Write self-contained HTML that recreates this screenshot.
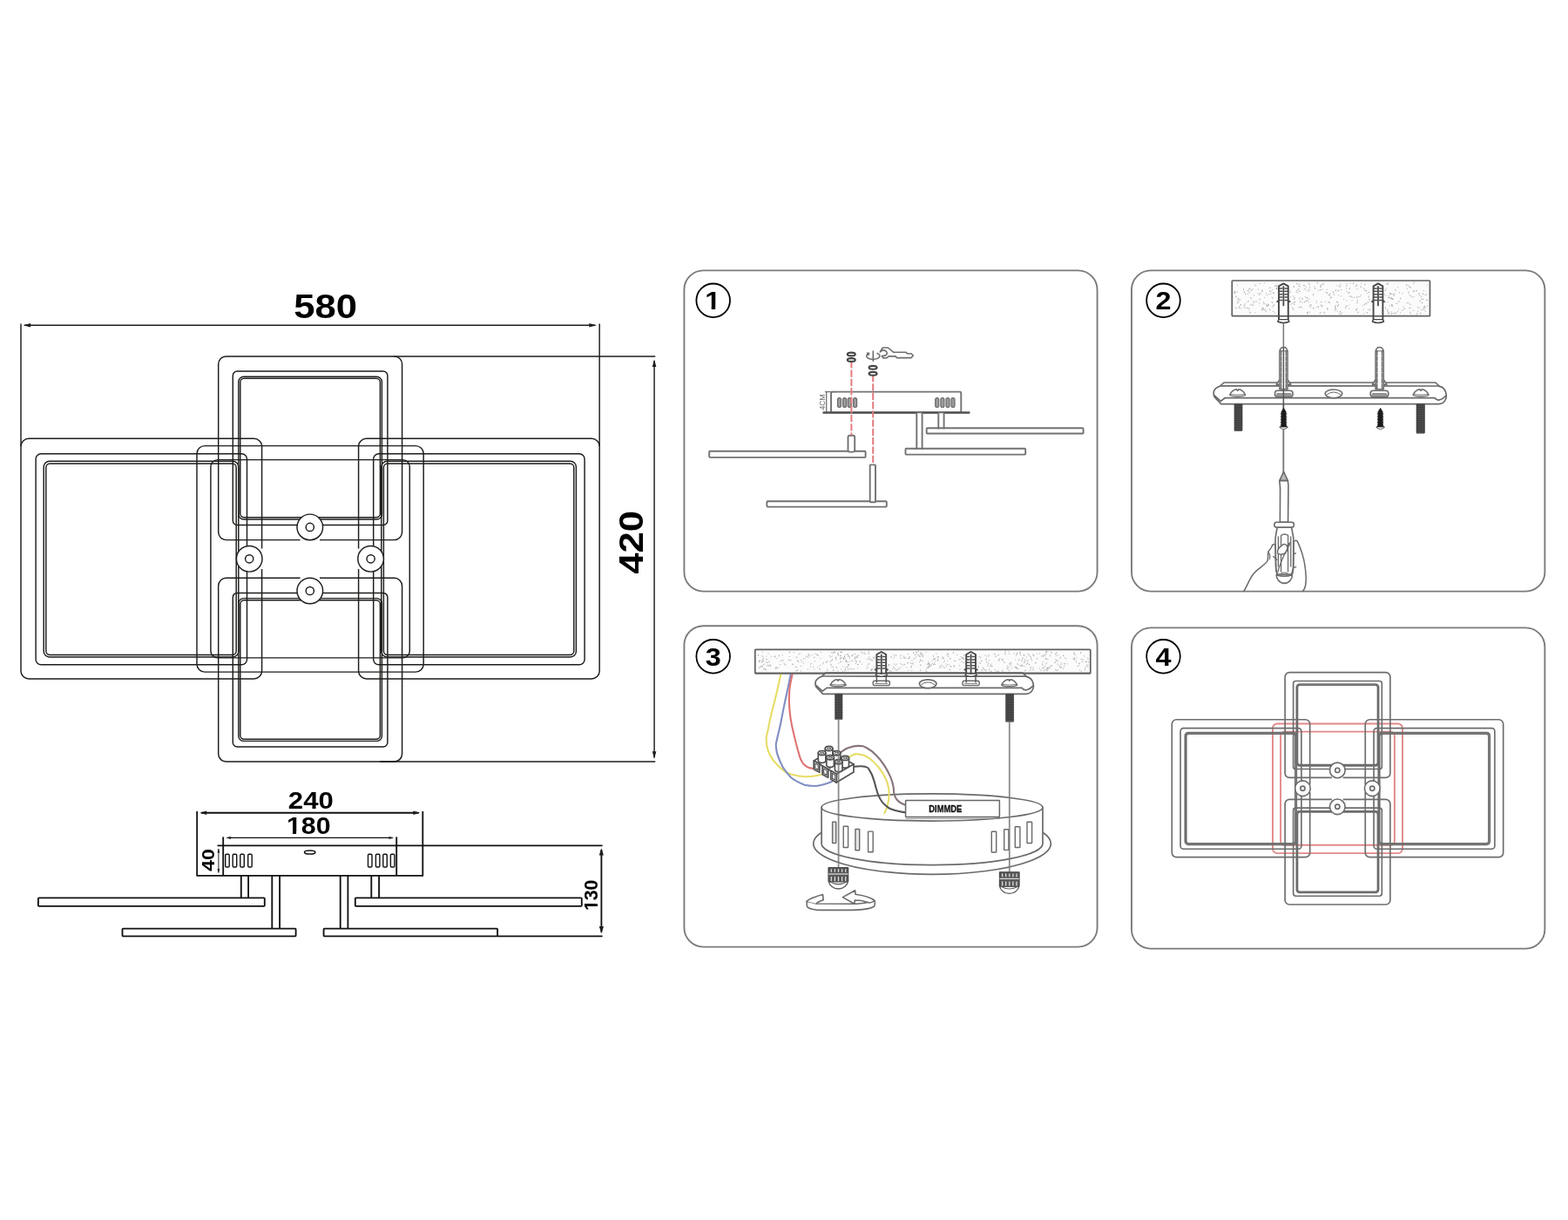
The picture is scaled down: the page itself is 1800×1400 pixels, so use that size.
<!DOCTYPE html>
<html lang="en">
<head>
<meta charset="utf-8">
<title>Assembly instructions</title>
<style>
html,body{margin:0;padding:0;background:#fff;}
body{width:1800px;height:1400px;overflow:hidden;font-family:"Liberation Sans",sans-serif;}
svg{will-change:transform;display:block;position:absolute;left:0;top:0;}
svg text{font-family:"Liberation Sans",sans-serif;}
</style>
</head>
<body>
<svg width="1800" height="1400" viewBox="0 0 1800 1400">
<rect width="1800" height="1400" fill="#fff"/>
<!-- plan view -->
<g fill="none" stroke="#1d1d1b" stroke-width="1.45">
<rect x="226" y="511.6" width="260.2" height="259.5" rx="9" stroke="#1d1d1b" stroke-width="1.45"/>
<rect x="241.9" y="527.6" width="228.4" height="227.3" rx="8" stroke="#1d1d1b" stroke-width="1.45"/>
<rect x="250.7" y="408.9" width="210.9" height="210.7" rx="9" />
<rect x="267.3" y="426" width="177.6" height="176.5" rx="5" />
<rect x="273.8" y="432.2" width="164.6" height="163.8" rx="6" />
<rect x="275.8" y="434.3" width="160.6" height="159.5" rx="4.5" />
<rect x="250.7" y="663.3" width="210.9" height="210.7" rx="9" />
<rect x="267.3" y="680.4" width="177.6" height="176.5" rx="5" />
<rect x="273.8" y="686.6" width="164.6" height="163.8" rx="6" />
<rect x="275.8" y="688.7" width="160.6" height="159.5" rx="4.5" />
<rect x="24" y="503.3" width="276.6" height="275.6" rx="9" />
<rect x="41.1" y="520.7" width="242.4" height="242" rx="6" />
<rect x="50.2" y="529.3" width="223.6" height="224.7" rx="6.5" />
<rect x="52.8" y="532" width="218.4" height="219.5" rx="4.5" />
<rect x="411.6" y="503.3" width="276.6" height="275.6" rx="9" />
<rect x="428.7" y="520.7" width="242.4" height="242" rx="6" />
<rect x="437.8" y="529.3" width="223.6" height="224.7" rx="6.5" />
<rect x="440.4" y="532" width="218.4" height="219.5" rx="4.5" />
<line x1="344.6" y1="619.6" x2="367" y2="619.6" stroke="#fff" stroke-width="2.65"/>
<line x1="344.6" y1="663.3" x2="367" y2="663.3" stroke="#fff" stroke-width="2.65"/>
<line x1="300.6" y1="629.5" x2="300.6" y2="653" stroke="#fff" stroke-width="2.65"/>
<line x1="411.6" y1="629.5" x2="411.6" y2="653" stroke="#fff" stroke-width="2.65"/>
<circle cx="355.8" cy="604.9" r="14.8" fill="#fff" stroke-width="1.45"/>
<circle cx="355.8" cy="604.9" r="4.6" stroke-width="1.45"/>
<circle cx="355.8" cy="678" r="14.8" fill="#fff" stroke-width="1.45"/>
<circle cx="355.8" cy="678" r="4.6" stroke-width="1.45"/>
<circle cx="286.2" cy="641.3" r="14.8" fill="#fff" stroke-width="1.45"/>
<circle cx="286.2" cy="641.3" r="4.6" stroke-width="1.45"/>
<circle cx="425.6" cy="641.3" r="14.8" fill="#fff" stroke-width="1.45"/>
<circle cx="425.6" cy="641.3" r="4.6" stroke-width="1.45"/>
</g>
<g stroke="#1d1d1b" stroke-width="1.45" fill="none">
<line x1="24" y1="371.5" x2="24" y2="512" />
<line x1="688.2" y1="371.5" x2="688.2" y2="512" />
<line x1="28" y1="373.2" x2="683.4" y2="373.2" />
<line x1="452" y1="408.9" x2="752.3" y2="408.9" />
<line x1="436" y1="874" x2="752.3" y2="874" />
<line x1="751.1" y1="414" x2="751.1" y2="869.4" />
</g>
<polygon points="26.6,373.2 35.1,370.9 35.1,375.5" fill="#1d1d1b"/>
<polygon points="684.8,373.2 676.3,370.9 676.3,375.5" fill="#1d1d1b"/>
<polygon points="751.1,412.6 748.8,421.1 753.4,421.1" fill="#1d1d1b"/>
<polygon points="751.1,870.8 748.8,862.3 753.4,862.3" fill="#1d1d1b"/>
<text transform="translate(373.5 365) scale(1.13 1)" font-size="38.6" font-weight="bold" fill="#000" text-anchor="middle" >580</text>
<text transform="translate(738 622.4) rotate(-90) scale(1.13 1)" font-size="38.6" font-weight="bold" fill="#000" text-anchor="middle" >420</text>
<!-- side view -->
<g stroke="#111" stroke-width="1.85" fill="none">
<line x1="226.2" y1="931" x2="226.2" y2="1004.9" />
<line x1="485.3" y1="931" x2="485.3" y2="1004.9" />
<line x1="231" y1="932.7" x2="480.6" y2="932.7" />
<line x1="256.2" y1="960.4" x2="256.2" y2="1004.9" />
<line x1="455.2" y1="960.4" x2="455.2" y2="1004.9" />
<line x1="260.6" y1="961.4" x2="450.8" y2="961.4" stroke-width="1.4"/>
<line x1="249.5" y1="970.4" x2="691.6" y2="970.4" />
<line x1="225.5" y1="1004.9" x2="486" y2="1004.9" />
<line x1="250.9" y1="974" x2="250.9" y2="1001.5" stroke-width="0.9"/>
<line x1="571" y1="1074.4" x2="691.6" y2="1074.4" />
<line x1="690.4" y1="975" x2="690.4" y2="1069.6" />
<line x1="276.8" y1="1004.9" x2="276.8" y2="1030.4" />
<line x1="285.1" y1="1004.9" x2="285.1" y2="1030.4" />
<line x1="312.3" y1="1004.9" x2="312.3" y2="1065.6" />
<line x1="321.1" y1="1004.9" x2="321.1" y2="1065.6" />
<line x1="390.7" y1="1004.9" x2="390.7" y2="1065.6" />
<line x1="399.4" y1="1004.9" x2="399.4" y2="1065.6" />
<line x1="426.3" y1="1004.9" x2="426.3" y2="1030.4" />
<line x1="435.1" y1="1004.9" x2="435.1" y2="1030.4" />
<rect x="43.9" y="1030.4" width="259.9" height="9.5" rx="0.8" fill="#fff"/>
<rect x="407.8" y="1030.4" width="260" height="9.5" rx="0.8" fill="#fff"/>
<rect x="140.5" y="1065.6" width="199.1" height="8.8" rx="0.8" fill="#fff"/>
<rect x="371.6" y="1065.6" width="199.5" height="8.8" rx="0.8" fill="#fff"/>
<rect x="258.7" y="980.3" width="4.5" height="14.7" rx="1.2" stroke-width="1.4"/>
<rect x="267.2" y="980.3" width="4.5" height="14.7" rx="1.2" stroke-width="1.4"/>
<rect x="275.8" y="980.3" width="4.5" height="14.7" rx="1.2" stroke-width="1.4"/>
<rect x="284.7" y="980.3" width="4.5" height="14.7" rx="1.2" stroke-width="1.4"/>
<rect x="422.5" y="980.3" width="4.5" height="14.7" rx="1.2" stroke-width="1.4"/>
<rect x="431.4" y="980.3" width="4.5" height="14.7" rx="1.2" stroke-width="1.4"/>
<rect x="439.8" y="980.3" width="4.5" height="14.7" rx="1.2" stroke-width="1.4"/>
<rect x="448.4" y="980.3" width="4.5" height="14.7" rx="1.2" stroke-width="1.4"/>
<ellipse cx="355.7" cy="978" rx="6.2" ry="2.1" stroke-width="1.5"/>
</g>
<polygon points="229.2,932.7 237.2,930.5 237.2,934.9" fill="#1d1d1b"/>
<polygon points="482.3,932.7 474.3,930.5 474.3,934.9" fill="#1d1d1b"/>
<polygon points="259.4,961.6 264.9,960.1 264.9,963.1" fill="#1d1d1b"/>
<polygon points="452,961.6 446.5,960.1 446.5,963.1" fill="#1d1d1b"/>
<polygon points="250.9,973.4 249.5,978.4 252.3,978.4" fill="#1d1d1b"/>
<polygon points="250.9,1002 249.5,997 252.3,997" fill="#1d1d1b"/>
<polygon points="690.4,973.2 687.8,981.4 693,981.4" fill="#1d1d1b"/>
<polygon points="690.4,1071.3 687.8,1063.1 693,1063.1" fill="#1d1d1b"/>
<text transform="translate(356.8 928) scale(1.13 1)" font-size="27.6" font-weight="bold" fill="#000" text-anchor="middle" >240</text>
<clipPath id="k1"><path clip-rule="evenodd" d="M-82.8 -33.12 h165.6 v44.16 h-165.6 Z M-23.57 -3.45 H-16.59 V1.38 H-23.57 Z M-12.81 -3.45 H-7.67 V1.38 H-12.81 Z"/></clipPath><text transform="translate(354.2 957.4) scale(1.1 1)" font-size="27.6" font-weight="bold" fill="#000" text-anchor="middle"  clip-path="url(#k1)">180</text>
<text transform="translate(245.6 987) rotate(-90) scale(1.13 1)" font-size="20.5" font-weight="bold" fill="#000" text-anchor="middle" >40</text>
<clipPath id="k2"><path clip-rule="evenodd" d="M-64.5 -25.8 h129 v34.4 h-129 Z M-18.36 -2.69 H-12.92 V1.07 H-18.36 Z M-9.98 -2.69 H-5.98 V1.07 H-9.98 Z"/></clipPath><text transform="translate(685.9 1027.3) rotate(-90) scale(0.99 1)" font-size="21.5" font-weight="bold" fill="#000" text-anchor="middle"  clip-path="url(#k2)">130</text>
<!-- panels -->
<g fill="none" stroke="#7b7b7b" stroke-width="1.9">
<rect x="785.4" y="310.4" width="474.2" height="368.2" rx="22" />
<rect x="1299" y="310.4" width="474.4" height="368.2" rx="22" />
<rect x="785.4" y="718.2" width="474.2" height="368.4" rx="22" />
<rect x="1299" y="720.4" width="474.4" height="368.2" rx="22" />
</g>
<circle cx="818.7" cy="344.8" r="19.3" fill="#fff" stroke="#000" stroke-width="1.8"/>
<clipPath id="k3"><path clip-rule="evenodd" d="M-87 -34.8 h174 v46.4 h-174 Z M-8.64 -3.62 H-1.31 V1.45 H-8.64 Z M2.67 -3.62 H8.06 V1.45 H2.67 Z"/></clipPath><text transform="translate(818.2 355) scale(1.12 1)" font-size="29" font-weight="bold" fill="#000" text-anchor="middle"  clip-path="url(#k3)">1</text>
<circle cx="1335.5" cy="344.8" r="19.3" fill="#fff" stroke="#000" stroke-width="1.8"/>
<text transform="translate(1335.5 355) scale(1.12 1)" font-size="29" font-weight="bold" fill="#000" text-anchor="middle" >2</text>
<circle cx="818.7" cy="753.3" r="19.3" fill="#fff" stroke="#000" stroke-width="1.8"/>
<text transform="translate(818.7 763.5) scale(1.12 1)" font-size="29" font-weight="bold" fill="#000" text-anchor="middle" >3</text>
<circle cx="1335.5" cy="753.3" r="19.3" fill="#fff" stroke="#000" stroke-width="1.8"/>
<text transform="translate(1335.5 763.5) scale(1.12 1)" font-size="29" font-weight="bold" fill="#000" text-anchor="middle" >4</text>
<!-- step 1 -->
<g fill="none" stroke="#727272" stroke-width="1.9" stroke-linejoin="round">
<rect x="954" y="449.6" width="149.3" height="23.8" rx="1.2" />
<line x1="948.7" y1="449.6" x2="948.7" y2="473.4" stroke-width="1.3"/>
<line x1="947" y1="449.6" x2="960" y2="449.6" stroke-width="1.3"/>
<line x1="944.5" y1="473.6" x2="1113.4" y2="473.6" stroke="#505050" stroke-width="2.5"/>
<rect x="961.5" y="456.6" width="4" height="10.7" rx="1.9" fill="#9c9c9c" stroke="#6a6a6a" stroke-width="1.2"/>
<rect x="967.6" y="456.6" width="4" height="10.7" rx="1.9" fill="#9c9c9c" stroke="#6a6a6a" stroke-width="1.2"/>
<rect x="973.3" y="456.6" width="4" height="10.7" rx="1.9" fill="#9c9c9c" stroke="#6a6a6a" stroke-width="1.2"/>
<rect x="979.6" y="456.6" width="4" height="10.7" rx="1.9" fill="#9c9c9c" stroke="#6a6a6a" stroke-width="1.2"/>
<rect x="1073.7" y="456.6" width="4" height="10.7" rx="1.9" fill="#9c9c9c" stroke="#6a6a6a" stroke-width="1.2"/>
<rect x="1079.9" y="456.6" width="4" height="10.7" rx="1.9" fill="#9c9c9c" stroke="#6a6a6a" stroke-width="1.2"/>
<rect x="1086" y="456.6" width="4" height="10.7" rx="1.9" fill="#9c9c9c" stroke="#6a6a6a" stroke-width="1.2"/>
<rect x="1092" y="456.6" width="4" height="10.7" rx="1.9" fill="#9c9c9c" stroke="#6a6a6a" stroke-width="1.2"/>
<rect x="1052.3" y="473.4" width="6.3" height="42.1" rx="0.5" fill="#fff"/>
<rect x="1077.3" y="473.4" width="6.3" height="18.8" rx="0.5" fill="#fff"/>
<rect x="1063.7" y="491.2" width="179.9" height="6.3" rx="0.8" fill="#fff"/>
<rect x="1039.5" y="514.7" width="137.7" height="6.9" rx="0.8" fill="#fff"/>
<line x1="1077.3" y1="491.2" x2="1077.3" y2="492.4" />
<line x1="1083.6" y1="491.2" x2="1083.6" y2="492.4" />
<line x1="1052.3" y1="514.7" x2="1052.3" y2="515.8" />
<line x1="1058.6" y1="514.7" x2="1058.6" y2="515.8" />
<rect x="814.2" y="517.8" width="179.4" height="7.1" rx="0.8" fill="#fff"/>
<rect x="973.5" y="499.8" width="7.7" height="18.8" rx="2" fill="#fff"/>
<rect x="880.4" y="575.2" width="137.4" height="6.4" rx="0.8" fill="#fff"/>
<rect x="998.7" y="533.4" width="6.3" height="42.8" rx="0.8" fill="#fff"/>
</g>
<g fill="none" stroke="#e57c80" stroke-width="2" stroke-dasharray="8.3 2">
<line x1="977.4" y1="414.2" x2="977.4" y2="499.6" />
<line x1="1002.2" y1="430" x2="1002.2" y2="533.2" />
</g>
<g fill="none" stroke="#454545" stroke-width="2.1">
<ellipse cx="977.3" cy="406.5" rx="4.5" ry="1.9" />
<ellipse cx="977.3" cy="413" rx="4.5" ry="1.9" />
<ellipse cx="1002.1" cy="421.8" rx="4.5" ry="1.9" />
<ellipse cx="1002.1" cy="428.8" rx="4.5" ry="1.9" />
</g>
<g fill="none" stroke="#6e6e6e" stroke-width="1.6" stroke-linecap="round" stroke-linejoin="round">
<line x1="1002.3" y1="403" x2="1002.3" y2="414.2" />
<path d="M996.8 405.9 C994.4 407 993.8 409.2 996.2 410.8 C999.4 412.9 1005.6 412.8 1008.6 410.6 C1010.8 409 1010.2 406.6 1007.2 405.4" />
<path d="M995.6 405.2 L997.6 405.2 L997 407.2 Z" fill="#707070"/>
<path d="M1010.3 403.9 L1013.3 399 L1019.4 399 L1025.6 404.2 L1040 404.3 L1041.7 405.8 L1046.1 405.8 L1048.3 408 L1046.1 410.6 L1029.4 410.6 L1028.3 408.9 L1020 408.9 C1018.8 410.4 1016.4 411.2 1013.6 410.6 L1012.2 408.6 L1016.1 408.1 C1018.8 406.6 1018.8 404.4 1017.2 403.1 C1016 402.1 1014.4 401.8 1013.3 401.9 Z" />
</g>
<text transform="translate(946.6 461.5) rotate(-90)" font-size="8.6" font-weight="normal" fill="#666" text-anchor="middle" >4CM</text>
<!-- step 2 -->
<rect x="1414.3" y="322" width="227.2" height="40.7" rx="0.8" fill="#fbfbfb" stroke="#606060" stroke-width="1.7"/>
<path d="M1453.45 349.12h.1M1523.26 332.21h.1M1596.31 342.79h.1M1595.46 341.4h.1M1499.25 345.4h.1M1500.19 344.65h.1M1638.46 350.87h.1M1553.65 325.72h.1M1553.64 324.64h.1M1628.33 337.65h.1M1629.34 336.6h.1M1622.99 340.68h.1M1493 341.8h.1M1491.52 342.83h.1M1463.14 359.09h.1M1545.85 350.55h.1M1545.77 351.47h.1M1461.48 357.46h.1M1507.81 337.54h.1M1507.45 338.92h.1M1502.7 325.46h.1M1503.4 326.84h.1M1527.01 342.05h.1M1552.1 344.37h.1M1456.95 330.57h.1M1458.31 330.14h.1M1549.51 335.45h.1M1548.12 336.32h.1M1568.64 348.63h.1M1629.73 339.03h.1M1630.43 345.58h.1M1525.88 337.91h.1M1527.08 336.96h.1M1432.21 353.25h.1M1524.16 354.38h.1M1523.39 353.79h.1M1510.02 330.59h.1M1509.51 331.71h.1M1635.32 351.13h.1M1634.53 352.41h.1M1533.59 350.51h.1M1532.67 351.46h.1M1593.5 355.97h.1M1511.48 345.25h.1M1485.23 343.58h.1M1486.09 342.2h.1M1569.07 358.56h.1M1569.37 358.96h.1M1606.04 345.36h.1M1605.74 346.65h.1M1618.03 329.27h.1M1616.73 327.94h.1M1516.09 329.53h.1M1562.41 329.02h.1M1561.85 329h.1M1465.6 330.43h.1M1465.21 331.02h.1M1539.02 326.15h.1M1610.97 352.14h.1M1418.54 341.06h.1M1419.38 340.15h.1M1571.61 335.7h.1M1571.26 335.16h.1M1616.95 335.03h.1M1617.11 336.29h.1M1438.7 345.96h.1M1439.45 347.27h.1M1485.72 349.47h.1M1485.91 348.25h.1M1597.82 359.37h.1M1597.24 360.75h.1M1440.71 327.22h.1M1441.72 327.94h.1M1516.36 346.68h.1M1516.82 346.52h.1M1531.77 338.4h.1M1530.89 337.14h.1M1513.22 333.32h.1M1598.4 350.34h.1M1597.56 350.02h.1M1524.96 347.06h.1M1435.78 341.63h.1M1436.47 342.72h.1M1590.01 346.88h.1M1565.24 355.16h.1M1568.56 333.26h.1M1502.56 346.45h.1M1630.94 359.81h.1M1630.34 359.29h.1M1503.73 329.69h.1M1434.47 335.3h.1M1440.85 358.63h.1M1462.53 336.47h.1M1568.26 333.81h.1M1488.37 333.58h.1M1450.89 348.82h.1M1451.2 348.19h.1M1501.01 358.08h.1M1500.81 358.41h.1M1502.27 334.22h.1M1503.74 332.92h.1M1596.88 357.87h.1M1421.02 342.39h.1M1421.36 342.95h.1M1537.77 327.87h.1M1537.62 328.98h.1M1499.02 329.32h.1M1599.53 343.4h.1M1598.53 343.13h.1M1539.43 332.54h.1M1604.22 357.53h.1M1420.71 345.28h.1M1421.99 345.97h.1M1430.05 353.6h.1M1554.63 341.32h.1M1491.9 334.13h.1M1491.26 334.49h.1M1614.59 327.04h.1M1614.63 327.53h.1M1458.97 334.13h.1M1457.49 334.12h.1M1568.06 347.82h.1M1566.8 349.02h.1M1536.47 339.08h.1M1434.2 354.03h.1M1432.73 353.62h.1M1535.13 346.93h.1M1535.8 346.91h.1M1452.8 354.88h.1M1618.19 348.76h.1M1619.08 349.89h.1M1535.29 356.93h.1M1503.49 358.12h.1M1593.2 324.9h.1M1593.56 325.2h.1M1452.68 357.73h.1M1453.9 356.91h.1M1638.57 344.31h.1M1497.32 327.46h.1M1496.29 327.57h.1M1597.89 337.43h.1M1596.37 337.22h.1M1545.77 325.44h.1M1463.66 328.32h.1M1533.02 356.45h.1M1531.81 355.73h.1M1511.07 347.38h.1M1500.8 341.98h.1M1500.92 341.86h.1M1424.7 353.88h.1M1595.17 350.79h.1M1637.55 337.95h.1M1635.96 338.41h.1M1546.01 345.08h.1M1460.56 332.61h.1M1597.31 341.74h.1M1596.9 342.65h.1M1527.86 340.98h.1M1528.27 341.25h.1M1570.79 355.39h.1M1500.11 333.44h.1M1592.99 357.64h.1M1594.1 358.73h.1M1433.96 335.49h.1M1449.28 354.17h.1M1449.86 353.6h.1M1465.29 331.89h.1M1465.97 331.1h.1M1569.32 336.46h.1M1498.61 331.4h.1M1497.2 331.95h.1M1508.72 328.9h.1M1562.3 325.26h.1M1548.93 340.34h.1M1550.41 339.99h.1M1558.17 347.2h.1M1557.68 347.91h.1M1558.07 340.81h.1M1557.18 341.62h.1M1421.22 347.46h.1M1420.32 347.7h.1M1546.35 327.6h.1M1545.28 328.44h.1M1489.45 336.22h.1M1488 335.34h.1M1450.5 346.78h.1M1465.91 328.49h.1M1464.68 328.22h.1M1572.26 343.73h.1M1571.44 344.01h.1M1438.19 331.77h.1M1598.58 343.08h.1M1418.82 335.3h.1M1420.14 334.9h.1M1591.18 325.73h.1M1592.44 326.48h.1M1545.6 331h.1M1434.53 358.94h.1M1453.24 336.67h.1M1562.56 338.4h.1M1428.67 334.76h.1M1428.11 335.58h.1M1485.32 328.5h.1M1515.14 332.77h.1M1516.31 332.56h.1M1570.31 346.91h.1M1570.49 346.53h.1M1460.88 342.15h.1M1460.33 341.27h.1M1619.75 339.69h.1M1618.25 338.89h.1M1609.77 336.53h.1M1516.84 350.79h.1M1516.44 350.17h.1M1548.85 354.2h.1M1523.48 336.23h.1M1604.83 329.71h.1M1631.08 355.88h.1M1632.67 355.4h.1M1501.19 359.36h.1M1500.86 359.71h.1M1593.27 346.37h.1M1592.32 355.63h.1M1599.75 359.43h.1M1600.4 359.47h.1M1632.18 347.88h.1M1632.7 347.31h.1M1445.57 338.29h.1M1443.98 337.15h.1M1517.76 351.75h.1M1518.19 350.66h.1M1530.2 335.06h.1M1530.88 334.82h.1M1503.85 350.51h.1M1503.36 351.07h.1M1602.32 359.47h.1M1602.72 358.94h.1M1572.75 354.71h.1M1572.25 355.93h.1M1495.1 347.07h.1M1417.61 336.65h.1M1417.11 335.85h.1M1422.43 353.17h.1M1422.66 353.32h.1M1605.56 354.74h.1M1454.33 351.66h.1M1455.7 351.13h.1M1504.82 352.76h.1M1484.4 339.97h.1M1638.1 327.49h.1M1620.86 340.95h.1M1591.12 331.17h.1M1634.93 355.93h.1M1435.63 350.01h.1M1436.94 349.08h.1M1538.74 328.81h.1M1485.59 329.55h.1M1556.78 326.74h.1M1631.28 340.23h.1M1497.56 346.14h.1M1497.37 346.84h.1M1458.23 335.15h.1M1619.35 330.19h.1M1618.75 329.53h.1M1495.11 343.68h.1M1495.22 342.43h.1M1434.33 331.72h.1M1433.83 331.13h.1M1602.75 347.99h.1M1603.62 348.51h.1M1486.88 346.49h.1M1535.53 351.36h.1M1622.98 333.93h.1M1633.85 343.35h.1M1437.84 350.33h.1M1438.64 350.12h.1M1535.68 333.37h.1M1536.85 333.77h.1M1556.51 328.63h.1M1558 327.8h.1M1536.3 349.37h.1M1536.48 350.68h.1M1590.43 332.96h.1M1590.17 333.48h.1M1566.78 333.82h.1M1512.62 325.05h.1M1512.23 324.2h.1M1565.83 359.93h.1M1556.7 355.1h.1M1556.98 356.21h.1M1430.06 337.43h.1M1429.55 337.23h.1M1429.5 348.74h.1M1491.16 352.93h.1M1492.03 352.02h.1M1549.02 350.25h.1M1435.56 358.65h.1M1523.68 355.18h.1M1454.26 338.67h.1M1519.84 326h.1M1518.84 326.24h.1M1559.85 340.49h.1M1561.33 340.05h.1M1566.13 331.8h.1M1565.1 330.72h.1M1491.62 328.61h.1M1492.11 328.74h.1M1593.59 341.54h.1M1594.32 341.26h.1M1533.28 333.44h.1M1533.28 332.93h.1M1439.34 338.72h.1M1598.12 351.69h.1M1594.85 339.19h.1M1428.83 352.85h.1M1511.61 352.38h.1M1589.59 338.07h.1M1591.02 339.2h.1M1458.95 337.43h.1M1515.96 358.83h.1M1515.24 359.29h.1M1618.44 358.3h.1M1619.37 359.63h.1M1490.01 332.62h.1M1490.91 331.61h.1M1538.27 357.69h.1M1538.68 357.78h.1M1631.51 342.83h.1M1632.8 343.54h.1M1449.06 353.2h.1M1450.56 354.49h.1M1526.39 339.35h.1M1525.68 338.53h.1M1454.17 350.57h.1M1454.49 350.84h.1M1622.84 334.54h.1M1623.11 333.89h.1M1636.36 357.41h.1M1602.04 333.23h.1M1601.66 332.79h.1M1499.86 341.56h.1M1422.39 343.75h.1M1423.89 343.9h.1M1547.72 335.75h.1M1545.82 334.13h.1M1427.98 351.06h.1M1428.69 350.03h.1M1549.57 330.54h.1M1548.81 331.51h.1M1503.16 343.16h.1M1634.19 333.75h.1M1590.52 352.84h.1M1590.44 353.64h.1M1557.57 354.89h.1M1558.1 354.1h.1M1451.66 341.53h.1M1559.04 358.35h.1M1559.14 358.29h.1M1448.76 333.8h.1M1449.22 334.24h.1M1557.86 331.7h.1M1606.41 335.7h.1M1445.75 336.92h.1M1447.21 336.36h.1M1502.52 331.9h.1M1457.58 354.76h.1M1457.74 355.82h.1M1558.11 345.12h.1M1558.58 344.6h.1M1451.25 324.82h.1M1544.38 353.05h.1M1544.94 352.92h.1M1533.46 354.18h.1M1533.25 354.59h.1M1449.65 355.66h.1M1448.18 355.61h.1M1626.89 359.44h.1M1626.14 360.66h.1M1566.46 326.89h.1M1567.19 326.45h.1M1455.83 349.89h.1M1456.45 349.84h.1M1597.33 342.78h.1M1597.47 350.26h.1M1597.82 349.92h.1M1433.76 356.08h.1M1539.21 360h.1M1540.75 358.83h.1M1500.88 344.89h.1M1532.51 352.71h.1M1533.08 353.54h.1M1550.17 325.24h.1M1416.83 335.31h.1M1417.67 334.38h.1M1462.79 349.31h.1M1432.7 346.43h.1M1433.09 345.25h.1M1420.53 327.31h.1M1525.79 346.37h.1M1526.39 347.49h.1M1460.78 352.37h.1M1637.27 344.7h.1M1493.43 352.38h.1M1493.83 352.73h.1M1636.63 352.6h.1M1635.59 352.2h.1M1504.86 350.09h.1M1505.05 349.96h.1M1484.62 347.43h.1M1486.16 346.4h.1M1616.52 347.25h.1M1615.17 347.66h.1M1595.29 336.99h.1M1534.94 327.72h.1M1486.1 341.65h.1M1611.45 354.98h.1M1612.56 354.01h.1M1539.38 339.94h.1M1596.96 336.91h.1M1595.69 336.49h.1M1461.12 350.61h.1M1462.45 350.89h.1M1515.94 328.76h.1M1516.14 327.76h.1M1633.79 337.38h.1M1633.11 337.03h.1M1432.72 337.52h.1M1523.34 336.08h.1M1521.94 335.54h.1M1513.49 351.87h.1M1513.22 352.3h.1M1460.08 346.53h.1M1460.57 347.58h.1M1593.47 359.79h.1M1594.93 359.64h.1M1498.25 340.74h.1M1628.86 353.24h.1M1627.64 352.41h.1M1566.16 349.57h.1M1564.58 350.96h.1M1491.87 325.99h.1M1490.59 326.87h.1M1534.43 346.36h.1M1444.53 332.18h.1M1551.73 340.15h.1M1552.11 341.4h.1M1627.58 357.25h.1M1446.06 325.51h.1M1520.86 359.26h.1M1519.69 358.43h.1M1617.61 353.63h.1M1619.09 353.27h.1M1607.46 341.97h.1M1607.64 342.96h.1M1508.07 354h.1M1507.62 353.61h.1M1629.97 345.59h.1M1456.64 337.69h.1M1502.07 324.81h.1M1445.48 348.02h.1M1481.12 334.13h.1M1481.26 335.47h.1M1448.94 333.25h.1M1422.89 351.6h.1M1571.16 341.18h.1M1571.25 340.08h.1M1488.87 325.76h.1M1488.76 325.15h.1M1465.98 326.86h.1M1464.79 328.21h.1M1424.17 350.08h.1M1424.45 349.53h.1M1634.75 353.34h.1M1634.53 354.51h.1M1451.54 355.7h.1M1542.79 343.53h.1M1436.97 333.4h.1M1436.08 332.23h.1M1626.04 333.22h.1M1625.79 334.03h.1M1445.88 343.99h.1M1446.27 343.24h.1M1537.4 359.67h.1M1538.91 360.98h.1M1516.37 327.39h.1M1517.85 326h.1M1442.48 346.02h.1M1441.2 346.08h.1M1483.02 348.03h.1M1482.15 349.21h.1M1418.15 353.13h.1M1419.43 353.43h.1M1518.73 332.21h.1M1607.4 358.8h.1M1622.28 356.44h.1M1492.07 346.05h.1M1493.07 346.2h.1M1609.4 356.34h.1M1461.93 336.46h.1M1461.4 335.51h.1M1483.42 352.84h.1M1484.75 354.03h.1M1481.36 340.83h.1M1622.52 325.23h.1M1623.55 323.89h.1M1615.38 331.15h.1M1521.44 346.13h.1M1599.73 339.31h.1M1600.66 338.62h.1M1484.49 355.59h.1M1600.69 336.78h.1M1599.43 337.71h.1M1427.58 331.04h.1M1427.44 332.43h.1M1432.46 333.5h.1M1433.1 333.1h.1M1455.45 349.19h.1" fill="none" stroke="#9a9a9a" stroke-width="0.9" stroke-linecap="round"/>
<line x1="1473.4" y1="368" x2="1473.4" y2="542" stroke="#777" stroke-width="1.5"/>
<g fill="#fff" stroke="#474747" stroke-width="1.9" stroke-linejoin="round">
<path d="M1468 367.6 L1468 328.4 L1473.4 325.4 L1478.8 328.4 L1478.8 367.6 Z" />
<path d="M1468 366.6 L1466.8 369 Q1473.4 372 1480 369 L1478.8 366.6 Z" stroke-width="1.4"/>
</g>
<g fill="none" stroke="#4a4a4a" stroke-linecap="round">
<line x1="1473.4" y1="328.9" x2="1473.4" y2="350.4" stroke-width="1.8"/>
<line x1="1468.8" y1="330.9" x2="1471.8" y2="330.9" stroke-width="1.5" stroke-dasharray="1.3 0.9"/>
<line x1="1475" y1="330.9" x2="1478" y2="330.9" stroke-width="1.5" stroke-dasharray="1.3 0.9"/>
<line x1="1468.8" y1="334.3" x2="1471.8" y2="334.3" stroke-width="1.5" stroke-dasharray="1.3 0.9"/>
<line x1="1475" y1="334.3" x2="1478" y2="334.3" stroke-width="1.5" stroke-dasharray="1.3 0.9"/>
<line x1="1468.8" y1="337.7" x2="1471.8" y2="337.7" stroke-width="1.5" stroke-dasharray="1.3 0.9"/>
<line x1="1475" y1="337.7" x2="1478" y2="337.7" stroke-width="1.5" stroke-dasharray="1.3 0.9"/>
<line x1="1468.8" y1="341.1" x2="1471.8" y2="341.1" stroke-width="1.5" stroke-dasharray="1.3 0.9"/>
<line x1="1475" y1="341.1" x2="1478" y2="341.1" stroke-width="1.5" stroke-dasharray="1.3 0.9"/>
<line x1="1468.8" y1="344.5" x2="1471.8" y2="344.5" stroke-width="1.5" stroke-dasharray="1.3 0.9"/>
<line x1="1475" y1="344.5" x2="1478" y2="344.5" stroke-width="1.5" stroke-dasharray="1.3 0.9"/>
<path d="M1468 344.4 l-2 1.6 l2 1" stroke-width="1.3"/>
<path d="M1478.8 344.4 l2 1.6 l-2 1" stroke-width="1.3"/>
<line x1="1468" y1="362.7" x2="1478.8" y2="362.7" stroke-width="1.5"/>
</g>
<g fill="#fff" stroke="#474747" stroke-width="1.9" stroke-linejoin="round">
<path d="M1576.6 367.6 L1576.6 328.4 L1582 325.4 L1587.4 328.4 L1587.4 367.6 Z" />
<path d="M1576.6 366.6 L1575.4 369 Q1582 372 1588.6 369 L1587.4 366.6 Z" stroke-width="1.4"/>
</g>
<g fill="none" stroke="#4a4a4a" stroke-linecap="round">
<line x1="1582" y1="328.9" x2="1582" y2="350.4" stroke-width="1.8"/>
<line x1="1577.4" y1="330.9" x2="1580.4" y2="330.9" stroke-width="1.5" stroke-dasharray="1.3 0.9"/>
<line x1="1583.6" y1="330.9" x2="1586.6" y2="330.9" stroke-width="1.5" stroke-dasharray="1.3 0.9"/>
<line x1="1577.4" y1="334.3" x2="1580.4" y2="334.3" stroke-width="1.5" stroke-dasharray="1.3 0.9"/>
<line x1="1583.6" y1="334.3" x2="1586.6" y2="334.3" stroke-width="1.5" stroke-dasharray="1.3 0.9"/>
<line x1="1577.4" y1="337.7" x2="1580.4" y2="337.7" stroke-width="1.5" stroke-dasharray="1.3 0.9"/>
<line x1="1583.6" y1="337.7" x2="1586.6" y2="337.7" stroke-width="1.5" stroke-dasharray="1.3 0.9"/>
<line x1="1577.4" y1="341.1" x2="1580.4" y2="341.1" stroke-width="1.5" stroke-dasharray="1.3 0.9"/>
<line x1="1583.6" y1="341.1" x2="1586.6" y2="341.1" stroke-width="1.5" stroke-dasharray="1.3 0.9"/>
<line x1="1577.4" y1="344.5" x2="1580.4" y2="344.5" stroke-width="1.5" stroke-dasharray="1.3 0.9"/>
<line x1="1583.6" y1="344.5" x2="1586.6" y2="344.5" stroke-width="1.5" stroke-dasharray="1.3 0.9"/>
<path d="M1576.6 344.4 l-2 1.6 l2 1" stroke-width="1.3"/>
<path d="M1587.4 344.4 l2 1.6 l-2 1" stroke-width="1.3"/>
<line x1="1576.6" y1="362.7" x2="1587.4" y2="362.7" stroke-width="1.5"/>
</g>
<g fill="#fff" stroke="#6a6a6a" stroke-width="1.7" stroke-linejoin="round" stroke-linecap="round">
<path d="M1405 439 L1647.9 439 L1652.5 443.4 C1660.2 444.9 1661.3 454.31 1659.5 458.27 C1657.7 462.7 1653.7 463.7 1651.2 463.7 L1401.8 463.7 L1394 455.3 C1392 450.12 1393.4 445.4 1400.8 443 Z" />
<path d="M1400.8 442.8 L1652.5 443" fill="none"/>
<path d="M1394.2 453.82 L1401.4 460.34 L1406.3 456.54 L1646.9 456.54 C1649.4 460.54 1654.9 459.74 1659.7 454.31" fill="none"/>
<path d="M1411.7 453.24 C1413.7 448.84 1416.7 447.04 1419.7 446.84 L1420.7 448.44 L1421.7 446.84 C1424.7 447.04 1427.7 448.84 1429.7 453.24 C1426.7 455.44 1414.7 455.44 1411.7 453.24 Z" stroke-width="1.5"/>
<path d="M1413.1 452.64 Q1420.7 453.64 1428.3 452.64" fill="none" stroke-width="0.9"/>
<rect x="1463.5" y="448.24" width="20.6" height="7.2" rx="3.2" stroke-width="1.6"/>
<rect x="1465.5" y="451.44" width="16.6" height="2.8" rx="1.2" fill="#9a9a9a" stroke="#777" stroke-width="0.8"/>
<ellipse cx="1531" cy="451.84" rx="9.8" ry="4.9" stroke-width="1.6"/>
<path d="M1522.6 453.24 Q1531 446.44 1539.4 453.24" fill="none" stroke-width="1"/>
<rect x="1573.2" y="448.24" width="20.6" height="7.2" rx="3.2" stroke-width="1.6"/>
<rect x="1575.2" y="451.44" width="16.6" height="2.8" rx="1.2" fill="#9a9a9a" stroke="#777" stroke-width="0.8"/>
<path d="M1622.1 453.24 C1624.1 448.84 1627.1 447.04 1630.1 446.84 L1631.1 448.44 L1632.1 446.84 C1635.1 447.04 1638.1 448.84 1640.1 453.24 C1637.1 455.44 1625.1 455.44 1622.1 453.24 Z" stroke-width="1.5"/>
<path d="M1623.5 452.64 Q1631.1 453.64 1638.7 452.64" fill="none" stroke-width="0.9"/>
</g>
<g fill="#fff" stroke="#6a6a6a" stroke-width="1.5" stroke-linejoin="round" stroke-linecap="round">
<path d="M1468.9 435.8 L1465.1 441.2 L1481.9 441.2 L1478.1 435.8 Z" />
<path d="M1468.9 446.8 L1468.9 403.6 Q1469.5 398.6 1473.5 398.6 Q1477.5 398.6 1478.1 403.6 L1478.1 446.8 Z" />
<line x1="1470.6" y1="402.6" x2="1470.6" y2="445.8" stroke-dasharray="5 1.4"/>
<line x1="1476.4" y1="402.6" x2="1476.4" y2="445.8" stroke-dasharray="5 1.4"/>
<line x1="1468.9" y1="402.8" x2="1478.1" y2="402.8" stroke-width="1"/>
</g>
<g fill="#fff" stroke="#6a6a6a" stroke-width="1.5" stroke-linejoin="round" stroke-linecap="round">
<path d="M1579.1 435.8 L1575.3 441.2 L1592.1 441.2 L1588.3 435.8 Z" />
<path d="M1579.1 446.8 L1579.1 403.6 Q1579.7 398.6 1583.7 398.6 Q1587.7 398.6 1588.3 403.6 L1588.3 446.8 Z" />
<line x1="1580.8" y1="402.6" x2="1580.8" y2="445.8" stroke-dasharray="5 1.4"/>
<line x1="1586.6" y1="402.6" x2="1586.6" y2="445.8" stroke-dasharray="5 1.4"/>
<line x1="1579.1" y1="402.8" x2="1588.3" y2="402.8" stroke-width="1"/>
</g>
<line x1="1473.4" y1="399" x2="1473.4" y2="470" stroke="#555" stroke-width="1.5"/>
<rect x="1417" y="463.6" width="9" height="30.8" rx="0.4" fill="#555" stroke="#444" stroke-width="0.6"/>
<path d="M1417 465.2H1426.4M1417 467.35H1426.4M1417 469.5H1426.4M1417 471.65H1426.4M1417 473.8H1426.4M1417 475.95H1426.4M1417 478.1H1426.4M1417 480.25H1426.4M1417 482.4H1426.4M1417 484.55H1426.4M1417 486.7H1426.4M1417 488.85H1426.4M1417 491H1426.4M1417 493.15H1426.4" fill="none" stroke="#2e2e2e" stroke-width="0.8"/>
<rect x="1626" y="463.6" width="9.4" height="33.6" rx="0.4" fill="#555" stroke="#444" stroke-width="0.6"/>
<path d="M1626 465.2H1635.8M1626 467.35H1635.8M1626 469.5H1635.8M1626 471.65H1635.8M1626 473.8H1635.8M1626 475.95H1635.8M1626 478.1H1635.8M1626 480.25H1635.8M1626 482.4H1635.8M1626 484.55H1635.8M1626 486.7H1635.8M1626 488.85H1635.8M1626 491H1635.8M1626 493.15H1635.8M1626 495.3H1635.8" fill="none" stroke="#2e2e2e" stroke-width="0.8"/>
<path d="M1473.6 468.4 L1476.1 472.4 L1476.3 489.2 L1478.4 490.2 L1468.8 490.2 L1470.9 489.2 L1471.1 472.4 Z" fill="#1c1c1c" stroke="#1c1c1c" stroke-width="0.8" stroke-linejoin="round"/>
<path d="M1469 490.4 Q1473.6 494.6 1478.2 490.4" fill="#fff" stroke="#555" stroke-width="1"/>
<path d="M1470.9 474.4l-1 .8M1476.3 474.4l1 .8M1470.9 477.7l-1 .8M1476.3 477.7l1 .8M1470.9 481l-1 .8M1476.3 481l1 .8M1470.9 484.3l-1 .8M1476.3 484.3l1 .8M1470.9 487.6l-1 .8M1476.3 487.6l1 .8" fill="none" stroke="#1c1c1c" stroke-width="1"/>
<path d="M1584.6 468.4 L1587.1 472.4 L1587.3 489.2 L1589.4 490.2 L1579.8 490.2 L1581.9 489.2 L1582.1 472.4 Z" fill="#1c1c1c" stroke="#1c1c1c" stroke-width="0.8" stroke-linejoin="round"/>
<path d="M1580 490.4 Q1584.6 494.6 1589.2 490.4" fill="#fff" stroke="#555" stroke-width="1"/>
<path d="M1581.9 474.4l-1 .8M1587.3 474.4l1 .8M1581.9 477.7l-1 .8M1587.3 477.7l1 .8M1581.9 481l-1 .8M1587.3 481l1 .8M1581.9 484.3l-1 .8M1587.3 484.3l1 .8M1581.9 487.6l-1 .8M1587.3 487.6l1 .8" fill="none" stroke="#1c1c1c" stroke-width="1"/>
<line x1="1473.4" y1="492" x2="1473.4" y2="542" stroke="#777" stroke-width="1.5"/>
<g fill="#fff" stroke="#6a6a6a" stroke-width="1.6" stroke-linejoin="round" stroke-linecap="round">
<path d="M1473.6 541.4 L1478.4 551.6 L1468.8 551.6 Z" fill="#bbb"/>
<path d="M1468.8 551.6 L1478.4 551.6 L1479 557 L1478.6 599.3 L1469.4 599.3 L1469.6 560 Z" />
<rect x="1462.9" y="599.3" width="22.5" height="5.9" rx="2.6" />
<path d="M1466.2 605.2 C1465.4 611 1463.8 615 1464 621 L1464.6 650 C1464.6 654 1465.6 657 1466.4 659 L1482.6 659 C1483.6 656 1484.6 653 1484.6 650 L1485 621 C1485.2 615 1483.4 611 1482.6 605.2 Z" />
<path d="M1470.6 614.5 L1470.6 656 M1478.6 614.5 L1478.6 656 M1467.4 616 L1467.4 650 M1481.8 616 L1481.8 650" fill="none" stroke-width="1.3"/>
<path d="M1470.6 614.5 Q1474.6 611.5 1478.6 614.5" fill="none" stroke-width="1.3"/>
<path d="M1427.8 678.4 C1431.5 673 1434 665 1438.5 659 C1443 653 1450.5 649.6 1454.6 644.4 C1456.4 642 1455 637.4 1456 633.6 C1456.8 630.4 1459.6 629.6 1460 627 C1460.6 624.6 1462.6 624 1464.2 625.2 L1464.6 650 C1464.8 656 1466 660 1468 663 L1481 663 C1484 660 1484.8 654 1484.8 650 L1485 621.6 C1487 620 1488.6 619.6 1489.4 621.4 C1493 629 1496.4 639 1497.8 648 C1499 656 1499.8 666 1498.6 672 C1498 675 1496.8 677 1495.6 678.4" fill="none" stroke-width="1.5"/>
<path d="M1466.6 634.6 C1465.8 631 1468.4 628 1471.6 625.8 C1474 624 1476.2 624.2 1477.4 626.4 C1478.6 629 1477.6 632.6 1475.4 634.6 C1473.4 636.6 1468.2 637.2 1466.6 634.6 Z" stroke-width="1.45"/>
<path d="M1477.4 626.4 C1479 624 1480.4 623 1481.6 622.4 M1480.4 624.6 C1476.4 633 1470 643 1467 656" fill="none" stroke-width="1.3"/>
<path d="M1456 633.6 C1458 636 1458.2 639 1457.4 641.6 M1461.6 638.6 L1466 642.4 M1484.6 635.6 L1487.4 635 M1485 651.4 L1487.8 650.6" fill="none" stroke-width="1.3"/>
<path d="M1465.2 659.4 C1465 663.6 1468.6 669.2 1474.4 669.4 C1480.2 669.2 1483.8 663.6 1483.4 659.4 C1478 661.6 1470.4 661.6 1465.2 659.4 Z" />
<ellipse cx="1474.3" cy="658.4" rx="4.2" ry="1.4" fill="none" stroke-width="1"/>
</g>
<!-- step 3 -->
<g fill="none" stroke="#6a6a6a" stroke-width="1.7" stroke-linecap="round" stroke-linejoin="round">
<path d="M943.1 955.2 A136.3 35.3 0 1 0 1197 955.2" />
<path d="M943.1 926.5 L943.1 968 A126.95 24.6 0 0 0 1197 968 L1197 926.5" fill="#fff"/>
<ellipse cx="1070.05" cy="926.5" rx="126.95" ry="15.6" fill="#fff"/>
<rect x="955.6" y="943.3" width="4.1" height="24.2" rx="0.5" fill="#e4e4e4" stroke-width="1.4"/>
<rect x="968.2" y="948.3" width="5.4" height="24.2" rx="0.5" fill="#fff" stroke-width="1.4"/>
<rect x="981.9" y="951.5" width="4.8" height="24.3" rx="0.5" fill="#e4e4e4" stroke-width="1.4"/>
<rect x="996.6" y="954.1" width="5.6" height="23.6" rx="0.5" fill="#fff" stroke-width="1.4"/>
<rect x="1138.3" y="954.2" width="5.4" height="23.8" rx="0.5" fill="#fff" stroke-width="1.4"/>
<rect x="1152.7" y="951.7" width="5.2" height="23.7" rx="0.5" fill="#fff" stroke-width="1.4"/>
<rect x="1165.3" y="948.7" width="5.6" height="23.8" rx="0.5" fill="#fff" stroke-width="1.4"/>
<rect x="1179" y="943.3" width="5.6" height="24.2" rx="0.5" fill="#fff" stroke-width="1.4"/>
</g>
<path d="M965.4 863.1 C967.58 861.85 969.02 859.9 974.1 858.1 C979.18 856.3 980.27 855.72 985.7 855.9 C991.13 856.08 990.75 856.1 995.8 858.8 C1000.85 861.5 1001.2 862 1005.9 866.7 C1010.6 871.4 1010.62 871.62 1014.6 877.6 C1018.58 883.58 1019.1 884.47 1021.8 890.6 C1024.5 896.73 1024.15 896.7 1025.4 902.1 C1026.65 907.5 1025.35 907.87 1026.8 912.2 C1028.25 916.53 1028.02 916.5 1031.2 919.4 C1034.38 922.3 1037.42 922.7 1039.5 923.8" fill="none" stroke-width="2.1" stroke-linecap="round" stroke="#86747a"/>
<path d="M974.8 868.9 C976.08 868.17 976.82 866.8 979.9 866 C982.98 865.2 982.77 864.8 987.1 865.7 C991.43 866.6 992.15 866.27 997.2 869.6 C1002.25 872.93 1002.77 873.75 1007.3 879 C1011.83 884.25 1012.22 884.82 1015.3 890.6 C1018.38 896.38 1018.27 896.7 1019.6 902.1 C1020.93 907.5 1020.78 906.77 1020.6 912.2 C1020.42 917.63 1020.23 918.55 1018.9 923.8 C1017.57 929.05 1016.2 930.85 1015.3 933.2" fill="none" stroke-width="2.1" stroke-linecap="round" stroke="#e6dd66"/>
<path d="M979.9 879.7 C983.15 879.7 988.2 878.42 992.9 879.7 C997.6 880.98 996.17 881 998.7 884.8 C1001.23 888.6 1001.2 889.85 1003 894.9 C1004.8 899.95 1004.27 899.95 1005.9 905 C1007.53 910.05 1006.97 910.4 1009.5 915.1 C1012.03 919.8 1011.85 920.17 1016 923.8 C1020.15 927.43 1020.22 927.45 1026.1 929.6 C1031.98 931.75 1036.15 931.7 1039.5 932.4" fill="none" stroke-width="2.1" stroke-linecap="round" stroke="#555"/>
<rect x="1039.6" y="918.5" width="107.8" height="19" rx="0.6" fill="#fff" stroke="#666" stroke-width="1.5"/>
<line x1="1039.6" y1="939.3" x2="1147.4" y2="939.3" stroke="#8a8a8a" stroke-width="0.9"/>
<text transform="translate(1085.3 931.8) scale(0.81 1)" font-size="11.6" font-weight="bold" fill="#111" text-anchor="middle" stroke="#111" stroke-width="0.35">DIMMDE</text>
<rect x="866.8" y="745.4" width="385" height="27.3" rx="0.8" fill="#fbfbfb" stroke="#606060" stroke-width="1.7"/>
<path d="M1086.02 762h.1M974.67 762.44h.1M1214.65 752.06h.1M1103.8 759.13h.1M1070.04 757.83h.1M986.82 758.96h.1M987.16 759.62h.1M1031.23 766.78h.1M1080.43 763.09h.1M1079.01 764.44h.1M977.39 752.66h.1M1154.23 750.65h.1M1153.41 750.01h.1M871.72 759.6h.1M871.38 758.72h.1M911.13 748.63h.1M1153.3 760.38h.1M1152.18 759.32h.1M989.59 749.18h.1M988.64 748.32h.1M1049.22 755.88h.1M1050.14 755.35h.1M895.99 758.63h.1M896.88 757.54h.1M1200.94 748.23h.1M1200.76 747.71h.1M1207.08 763.56h.1M1207.07 763.87h.1M882.03 749.85h.1M1146.51 758.22h.1M1146.53 757.55h.1M1202.37 769.35h.1M1200.83 769.06h.1M1174.46 755.15h.1M1173.45 755.74h.1M1105.67 754.28h.1M1158.35 769.44h.1M1034.21 765.95h.1M1199.5 764.64h.1M1063.65 766.86h.1M1143.37 752.98h.1M1142.63 753.22h.1M1087.04 752.33h.1M1088.48 751.13h.1M1221.33 765.12h.1M1247.62 763.06h.1M1249.02 762.82h.1M1217.61 766.05h.1M1216.14 764.71h.1M1165.94 765.55h.1M1164.7 765.18h.1M1173.05 764.42h.1M1237.16 764.73h.1M875.52 748.04h.1M1104.41 755.19h.1M1103.87 754.74h.1M1057.67 757.93h.1M1056.34 757.1h.1M918.03 750.14h.1M916.85 750.98h.1M1076.31 758.16h.1M958.56 748.42h.1M958.04 748.03h.1M965.28 754.73h.1M872.58 757.91h.1M871.88 758.54h.1M954.59 748.84h.1M956.12 748.41h.1M913.79 769.55h.1M1232.75 755.29h.1M885.02 753.2h.1M1065.37 765.5h.1M1066.58 764.32h.1M1106.23 752.11h.1M1107.46 751.91h.1M1178.07 754.23h.1M1214.14 761.88h.1M1214.68 763.14h.1M1173.75 757.8h.1M1172.47 758.55h.1M929.44 752.77h.1M928.36 752.45h.1M1050.42 751.81h.1M1051.25 750.68h.1M920.75 759.55h.1M1218.02 760.59h.1M1219.22 761.97h.1M1211.03 759.74h.1M1211.31 760.55h.1M1247.13 758.91h.1M1246.53 759.02h.1M1075.89 754.21h.1M1077.22 753.47h.1M965.76 754.69h.1M984.54 766.34h.1M1202.07 765.84h.1M1201.91 766.74h.1M962.72 761.32h.1M1224.05 755.72h.1M1222.55 755.21h.1M1077.21 754.15h.1M1183.51 755.22h.1M1002.61 754.35h.1M1003.53 755.47h.1M881.14 763.88h.1M880.87 763.37h.1M1212.37 757.56h.1M1211.9 756.87h.1M961.75 749.29h.1M961.91 749.96h.1M1124.1 753.68h.1M899.24 757.53h.1M898.22 758.82h.1M1141.06 750.83h.1M1142.05 750.47h.1M983.87 754.52h.1M984.15 753.99h.1M1094.24 749.31h.1M1094.5 748.81h.1M1198.97 768.6h.1M1025.73 751.6h.1M979.13 751.58h.1M978.17 751.97h.1M1157.99 748.16h.1M942.07 755.41h.1M1236.12 754.9h.1M1001.09 768.88h.1M1001.61 767.71h.1M1082.06 764.47h.1M1160.14 760.16h.1M1160.55 760.57h.1M1101.55 763.82h.1M1225.38 761.74h.1M1150.63 756.38h.1M1203.35 767.9h.1M1132.42 759.01h.1M1132.86 760.11h.1M1157 768.18h.1M1155.85 767.09h.1M1079.01 766.45h.1M1079.94 765.18h.1M948.79 760.09h.1M1056.93 763.24h.1M1056.54 763.29h.1M870.06 752.37h.1M870.56 751.52h.1M961.86 769.99h.1M1025.43 765.36h.1M1179.72 760.36h.1M906.13 757.46h.1M905.35 757.08h.1M1205.99 752.86h.1M1205.46 751.94h.1M878.19 768.26h.1M876.68 768.34h.1M935.48 758.68h.1M1241.02 756.77h.1M1056.59 749.69h.1M1057.58 750.47h.1M1144.07 769.93h.1M1144.71 770.82h.1M1220.56 767.31h.1M998.6 756.33h.1M914.86 754.77h.1M913.92 753.89h.1M891.03 765.7h.1M954.35 763.17h.1M953.45 762.23h.1M1181.57 762.61h.1M1201.68 760.91h.1M1200.6 761.91h.1M1181.06 762.3h.1M1176.74 756.88h.1M1176.5 758.05h.1M1207.1 748.04h.1M1206.93 749.19h.1M1203.2 766.55h.1M1202.26 767.32h.1M1036.67 755.02h.1M876.07 758.75h.1M1135.58 767.71h.1M1135.77 769.05h.1M919.63 757.49h.1M930.31 765.15h.1M967.26 769.97h.1M919.46 769.98h.1M1051.48 748.55h.1M1091.55 764.5h.1M1091.48 765.36h.1M1146.1 751.76h.1M1145.95 751.65h.1M1245.32 768.72h.1M1245.7 767.7h.1M1197.85 759.67h.1M1214.73 768.74h.1M1213.34 769.5h.1M1046.12 765.24h.1M1045.85 765.89h.1M1020.48 762.95h.1M1020.36 763.18h.1M1129.61 768.02h.1M1131.08 768.58h.1M878.74 767.91h.1M877.18 766.75h.1M998.21 753.77h.1M974.98 755.59h.1M1195.59 768.78h.1M1194.21 769.33h.1M997.4 750.24h.1M996.84 749.71h.1M933.55 765.6h.1M1198.61 770.02h.1M919.4 764.37h.1M1158.18 761.9h.1M1156.55 764.3h.1M1157.96 765.57h.1M1003.29 765.42h.1M1033.34 755.39h.1M1165.83 757.1h.1M1231.95 756.24h.1M922.58 761.13h.1M1023.2 754.22h.1M1022.77 753.91h.1M1026.6 753.34h.1M953.71 753.76h.1M955.02 753.13h.1M938.33 765.18h.1M915.07 769.6h.1M915.49 768.86h.1M1183.66 756.15h.1M1171.59 763.59h.1M1170.96 763.82h.1M1068.99 763.83h.1M1067.59 762.43h.1M1175.2 751.79h.1M1042.86 769.18h.1M1190.74 750.14h.1M1195.42 753.11h.1M875.79 757.7h.1M875.63 758.61h.1M978.66 768.22h.1M980.16 767.62h.1M1127.04 768.66h.1M1193.5 749.85h.1M884.83 762.98h.1M1160.61 764.12h.1M1244.43 752.9h.1M1175.66 752.17h.1M1175.46 751.19h.1M1193.29 766.98h.1M882.45 764.18h.1M1142.19 768.68h.1M1136.51 764.45h.1M1137.38 763.93h.1M970.3 755.25h.1M968.82 754.27h.1M974.42 752.74h.1M975.18 753.65h.1M995.65 763.8h.1M880.68 760.68h.1M934.75 768h.1M1073 759.86h.1M890.94 767.44h.1M890.31 766.77h.1M1074.99 750.15h.1M1024.61 767.9h.1M1170.85 750.32h.1M1171.26 751.56h.1M1106.94 755.94h.1M1045.51 761.05h.1M1046.96 761.37h.1M910.42 762.24h.1M909.36 762.23h.1M970.32 769.08h.1M970.47 767.7h.1M984.69 762.43h.1M985.21 762.64h.1M1102.95 753.62h.1M1186.65 751.66h.1M1187.13 752.77h.1M934.32 754.5h.1M934.9 754.4h.1M1137.94 769.99h.1M1137.63 770.81h.1M1177.42 769.2h.1M1176.61 769.67h.1M1183.9 765.7h.1M1182.71 766.26h.1M966.56 748.47h.1M966.06 748.11h.1M1076.49 757.84h.1M1076.92 756.96h.1M1173.3 762.85h.1M1083.59 759.94h.1M1198.17 752.18h.1M1199.22 752.05h.1M927.21 767.94h.1M876.5 755.6h.1M875.79 756.22h.1M956.15 749.76h.1M1087.84 758.53h.1M1128.55 766.89h.1M1127.92 766.42h.1M1048 760.77h.1M1048.21 762h.1M1153.97 748.01h.1M1154.39 746.76h.1M1246.02 765.45h.1M1065.86 762.1h.1M1066.11 762.12h.1M1000.94 758.39h.1M1001.29 757.65h.1M970.22 751.31h.1M1041.97 760.84h.1M1042.25 760.45h.1M967.94 765.01h.1M927.69 751.06h.1M928.63 750.53h.1M955.1 757.5h.1M955.51 756.99h.1M1021.26 769.84h.1M952.69 759.23h.1M954.23 758.56h.1M1221 752.73h.1M1220.5 752.24h.1M1000.02 756.67h.1M998.77 757.03h.1M1132.37 752.89h.1M1130.88 752h.1M1065.85 761.82h.1M1180.98 751.44h.1M1180.01 750.24h.1M879.95 759.98h.1M1240.82 748.44h.1M1240.35 749.45h.1M908.03 757.72h.1M1166.49 751.92h.1M1167.07 750.87h.1M1197 763.01h.1M1196.47 761.86h.1M1212.42 752.17h.1M1134.55 761.36h.1M973.65 762.78h.1M974.31 763.49h.1M1046.28 764.17h.1M875.02 752.63h.1M875.64 753.56h.1M956.83 768.51h.1M956.6 769.48h.1M976.79 767.03h.1M976.13 767.98h.1M1055.45 759.67h.1M1056.84 758.34h.1M1222.06 763.4h.1M1056.73 769.15h.1M1056.66 769.44h.1M1238.57 763.61h.1M1135.41 757.61h.1M884.55 764.58h.1M883.23 763.32h.1M1040.17 765.66h.1M1105.6 756.13h.1M1105.45 755.66h.1M1064.62 762.31h.1M1066 761.27h.1M1201.29 748.24h.1M1202.77 747.77h.1M900.1 761.44h.1M1052.89 748.43h.1M1054.1 747.58h.1M1137.61 762.17h.1M1174.15 763.98h.1M1172.78 764.23h.1M1087.61 762.72h.1M1089.16 763h.1M1028.76 751.69h.1M1028.03 752.2h.1M1026.06 766.01h.1M1027.15 767.33h.1M1123.57 765.64h.1M1123.44 765.32h.1M1021.73 769.58h.1M1023.22 770.23h.1M971.2 757.56h.1M971.07 758.81h.1M1090.98 755.54h.1M1090.62 756.41h.1M1171.28 748.65h.1M1160.6 761.97h.1M985.88 751.61h.1M984.36 752.6h.1M1038.26 762.67h.1M1038.34 762.32h.1M1167.42 767.33h.1M1084.39 758.3h.1M1233.64 755.29h.1M1233.65 756.3h.1M924.08 755.59h.1M1156.71 766.3h.1M1200.71 750.92h.1M1200.43 750.33h.1M1030.84 768.67h.1M941.29 763.37h.1M964.51 755.56h.1M964.35 756.23h.1M1002.45 754.83h.1M1003.97 754.13h.1M1037.34 753.05h.1M1038.24 754.09h.1M1089.75 768.63h.1M1090.35 768.26h.1M968.25 756.74h.1M968.66 755.8h.1M1138.95 764.27h.1M1138.57 764.7h.1M874.9 764.54h.1M873.36 765.24h.1M1034.09 752.23h.1M1033.71 752.68h.1M881.97 759.46h.1M883.17 759.25h.1M931.67 761.1h.1M930.38 762.21h.1M1083.24 755.75h.1M1082.1 755.51h.1M1029.06 768.95h.1M1028.7 768.95h.1M982.89 759.09h.1M981.94 758.74h.1M1163.95 749.82h.1M1221.6 761.01h.1M1222.78 761.64h.1M997.42 747.92h.1M1039.69 755.03h.1M1038.79 755.68h.1M1098.61 751.38h.1M1167.71 749.95h.1M996.3 756.37h.1M996.42 755.22h.1M1234.11 751.19h.1M879.23 757.03h.1M880.8 756.6h.1M1249.2 756.23h.1M1248.81 755.02h.1M1054.61 751.53h.1M1053.47 751.04h.1M1246.44 759.86h.1M1184.44 757.48h.1M874.74 759.64h.1M1217.9 765.42h.1M1216.67 765.09h.1M1051.9 753.74h.1M1082.94 765.95h.1M1084.34 766.33h.1M1059.47 758.76h.1M1105.78 760.27h.1M1107 760.75h.1M1243.49 756.97h.1M1242.06 756.5h.1M1059.38 753.44h.1M941.6 768.38h.1M940.59 767.32h.1M1168.96 767.55h.1M960.79 766.58h.1M965.57 768.01h.1M971.97 759.82h.1M970.72 758.64h.1M1179.96 757.97h.1M1217.49 754.29h.1M1216.73 755.51h.1M992.1 748.88h.1M991.72 749.96h.1M954.97 765.23h.1M956.5 765.53h.1M959.77 755.19h.1M959.45 755.05h.1M1232.56 748.74h.1M1233.35 749.86h.1M1201.65 756.37h.1M1202.9 756.58h.1M1232.92 750.62h.1M1146.2 770.07h.1M1146.52 771.06h.1M1042.11 750.67h.1M932.19 751.59h.1M1046.76 769.32h.1M924.81 753.11h.1M936.12 750.18h.1M937.31 751.28h.1M1200.09 756.46h.1M1200.2 755.15h.1M949.34 768.28h.1M1101.9 768.13h.1M1071.29 762.74h.1M981.37 755.29h.1M981.27 756.66h.1M942.58 748.41h.1M1239.55 768.94h.1M1241.15 770.09h.1M969.55 753.33h.1M969.5 753.49h.1M949.4 759.01h.1M948.29 759.44h.1M916.28 758.15h.1M915.13 758.35h.1M1176.37 759.59h.1M1175.35 760.61h.1M1082.93 754.07h.1M1081.79 754.29h.1M871.95 765.36h.1M871.48 766.67h.1M891.98 755.53h.1M1179.11 758.08h.1M959.92 765.46h.1M875.06 765.06h.1M873.84 764.06h.1M971.09 766.01h.1M973.6 752.57h.1M973.46 752.99h.1M1176.64 764.75h.1M1086.1 764.5h.1M906.35 748.66h.1M906.03 748.51h.1M895.67 762.57h.1M1000.61 767.81h.1M1000.08 769.16h.1M965.07 752.35h.1M964.66 752.6h.1M1247.8 764.57h.1M1249.11 765.17h.1M1161.51 767.03h.1M959.81 756.86h.1M1067.06 765.01h.1M1067.7 764.65h.1M997.72 762.08h.1M997.29 761.9h.1M922.24 756.22h.1M978.29 758.16h.1M977.75 758.16h.1M1211.58 768.59h.1M1212.55 768.95h.1M1059.37 752.47h.1M1059.18 751.46h.1M1201.22 767.76h.1M898.03 751.49h.1M1088.47 753.71h.1M1094.91 764.07h.1M959.71 754.22h.1M1235.4 759.8h.1M1057.09 748.4h.1M1071.6 752.32h.1M1071.41 753.2h.1M1185.86 765.98h.1M945.39 760.62h.1M944.48 761.88h.1M894.25 752.19h.1M894.3 752.81h.1M952.2 752.61h.1M1213.19 758.68h.1M1096.57 758.63h.1M1095.72 758.27h.1M1217.68 762.73h.1M1205.38 766.79h.1M1204.37 765.45h.1M1165.95 766.48h.1M1167.01 765.97h.1M1065.71 766.81h.1M1064.84 766.13h.1M1186.55 767.94h.1M1185.31 768.85h.1M982.36 761.48h.1M1159.7 762.01h.1M1065.54 759.85h.1M1066.22 761.03h.1M879.83 753.08h.1M1189.29 760.63h.1M1188.45 761.02h.1M889.01 753.41h.1M1070.72 761.32h.1M1069.35 762.24h.1M916.68 759.35h.1M1026.29 755.38h.1M1087.57 750.12h.1M1088.21 750.39h.1M972.88 759.67h.1M971.54 758.69h.1M1168.38 762.56h.1M1168.07 761.78h.1M890.02 754.04h.1M889.7 752.91h.1M1169.51 757.87h.1M1170 756.77h.1M1126.99 757.84h.1M1126.54 758.84h.1M981.41 750.54h.1M1134.8 753.02h.1M1135.51 751.94h.1M1190.69 755.35h.1M1190.01 756.15h.1M1101.16 757.08h.1M1102.04 756.56h.1M957.68 748.64h.1M1198.78 765.8h.1M1032.55 768.02h.1M968.58 755.8h.1M968.01 755.17h.1M1000.16 768.76h.1M1000.03 769.5h.1M1170.31 748.68h.1M989.41 762.18h.1M1183.66 768.33h.1M927.92 754.49h.1M926.62 753.79h.1M949.64 769.67h.1M1201.9 769.26h.1M1147.86 755.81h.1M1147.59 756.79h.1M983.4 759.27h.1M901.66 762.47h.1M900.88 762.96h.1M1127.17 769.53h.1M1204.75 765.6h.1M1206.27 764.3h.1M1151.18 757.02h.1M1150.62 757.67h.1M1214.18 758.42h.1M994.79 767.08h.1M1132.53 756.05h.1M1131.37 756.92h.1M1181.75 752.84h.1M1183.06 753.76h.1M1062.94 748.3h.1M964.42 759.27h.1M965.55 759.58h.1M876.21 762.89h.1M877.07 762.21h.1M1073.59 762.36h.1M1072.38 762.02h.1M893.52 766.25h.1M891.95 766.17h.1M1035.2 762.73h.1M1033.79 761.34h.1M1239.45 760.99h.1M1238.56 761.58h.1M1178.85 761.39h.1M1178.23 762.38h.1M1020.14 762.63h.1M1020.41 763.68h.1M1197.32 766.64h.1M1196.79 766.61h.1M1026.63 761.86h.1M1027.99 763.19h.1M1036.79 763.08h.1M1234.97 758.01h.1M1233.4 756.74h.1M1057.19 750.82h.1M1058.33 750.29h.1M1062.63 769.02h.1M1063.61 770.29h.1M983.69 753.36h.1M1055.82 753.28h.1M1056.32 752.88h.1M1125.9 754.26h.1M1125.31 755.14h.1M938.58 751.47h.1M939.15 752.52h.1M969.69 769.86h.1M1047.05 758h.1M1095.21 764.1h.1M1095.4 764.95h.1M982.19 754.45h.1M981.14 753.99h.1M965.05 748.3h.1M964.74 748.63h.1M973.69 768.8h.1M973.63 767.64h.1M1043.45 755.81h.1M1042.54 755.46h.1M973.42 750.44h.1M972.51 750.94h.1M1055.25 752.95h.1M1242.48 759.24h.1M1242.83 759.43h.1M1249.14 759.67h.1M1249.56 759.94h.1M1029.13 762.26h.1M1044.3 753.88h.1M1043.97 754.24h.1M879.53 768.68h.1M975.14 759.09h.1M1072.36 755.94h.1M1150.75 770.05h.1M1151.02 768.93h.1M995.94 766.04h.1M1197.01 752.18h.1M1197.55 753.33h.1M962.15 751.51h.1M961.63 750.68h.1M906.12 753.48h.1M1166.29 765.93h.1M1073.56 757.22h.1M1072.57 755.88h.1M1071.68 756.64h.1M1073.07 755.32h.1M913.8 765.22h.1M914.16 765.58h.1M1167.32 767.14h.1M1124.7 760.83h.1M1125.29 760.97h.1M1158.78 750.56h.1M1211.46 750.62h.1M1212.63 748.85h.1M1212.69 749.81h.1M1185.39 751.19h.1M1167.46 749.33h.1M993.19 750.39h.1M1132.04 769.68h.1M1131.07 769.02h.1M1218.6 766.01h.1M1182.01 769.53h.1M1066.13 764.59h.1M1067.12 763.29h.1M962.65 751.98h.1M874.5 759.91h.1M1134.04 764.25h.1M1133.94 762.97h.1M1048.72 748.82h.1M1048.74 749.47h.1M972.64 764.78h.1M973.18 765.39h.1" fill="none" stroke="#9a9a9a" stroke-width="0.9" stroke-linecap="round"/>
<path d="M896.3 773.6 C895.02 779.38 893.93 785.15 891.2 796.7 C888.47 808.25 887.93 808.97 885.4 819.8 C882.87 830.63 882.53 832.77 881.1 840 C879.67 847.23 879.52 843.27 879.7 848.7 C879.88 854.13 879.65 855.57 881.8 861.7 C883.95 867.83 884.15 867.8 888.3 873.2 C892.45 878.6 892.97 879.32 898.4 883.3 C903.83 887.28 903.5 887.1 910 889.1 C916.5 891.1 917.17 891.12 924.4 891.3 C931.63 891.48 933.1 890.9 938.9 889.8 C944.7 888.7 945.42 887.63 947.6 886.9" fill="none" stroke-width="2.1" stroke-linecap="round" stroke="#e6dd66"/>
<path d="M907.8 773.6 C906.9 777.93 906.18 781.52 904.2 790.9 C902.22 800.28 902.05 800.62 899.9 811.1 C897.75 821.58 897.6 823.4 895.6 832.8 C893.6 842.2 893.08 842.57 891.9 848.7 C890.72 854.83 890.35 851.9 890.9 857.3 C891.45 862.7 891.12 863.07 894.1 870.3 C897.08 877.53 897.37 879.5 902.8 886.2 C908.23 892.9 908.57 893.2 915.8 897.1 C923.03 901 924.12 901.1 931.7 901.8 C939.28 902.5 939.97 901.28 946.1 899.9 C952.23 898.52 953.67 897.2 956.2 896.3" fill="none" stroke-width="2.1" stroke-linecap="round" stroke="#7f8ec2" stroke-width="2.4"/>
<path d="M909.6 773.6 C908.8 777.93 907.3 782.25 906.4 790.9 C905.5 799.55 905.65 799.52 906 808.2 C906.35 816.88 906.45 816.92 907.8 825.6 C909.15 834.28 909.4 834.25 911.4 842.9 C913.4 851.55 913.62 852.62 915.8 860.2 C917.98 867.78 917.57 868.32 920.1 873.2 C922.63 878.08 923 877.6 925.9 879.7 C928.8 881.8 928.62 881.12 931.7 881.6 C934.78 882.08 936.57 881.6 938.2 881.6" fill="none" stroke-width="2.1" stroke-linecap="round" stroke="#e07272"/>
<g fill="#fff" stroke="#6a6a6a" stroke-width="1.7" stroke-linejoin="round" stroke-linecap="round">
<path d="M947.8 772.2 L1174 772.2 L1178.6 776.6 C1186.3 778.1 1187.4 787.14 1185.6 791 C1183.8 795.3 1179.8 796.3 1177.3 796.3 L944.6 796.3 L936.8 788.11 C934.8 783.04 936.2 778.6 943.6 776.2 Z" />
<path d="M943.6 776 L1178.6 776.2" fill="none"/>
<path d="M937 786.66 L944.2 793.11 L949.1 789.31 L1173 789.31 C1175.5 793.31 1181 792.51 1185.8 787.14" fill="none"/>
<path d="M953.1 786.13 C955.1 781.73 958.1 779.93 961.1 779.73 L962.1 781.33 L963.1 779.73 C966.1 779.93 969.1 781.73 971.1 786.13 C968.1 788.33 956.1 788.33 953.1 786.13 Z" stroke-width="1.5"/>
<path d="M954.5 785.53 Q962.1 786.53 969.7 785.53" fill="none" stroke-width="0.9"/>
<ellipse cx="1065.2" cy="784.73" rx="9.8" ry="4.9" stroke-width="1.6"/>
<path d="M1056.8 786.13 Q1065.2 779.33 1073.6 786.13" fill="none" stroke-width="1"/>
<path d="M1149.7 786.13 C1151.7 781.73 1154.7 779.93 1157.7 779.73 L1158.7 781.33 L1159.7 779.73 C1162.7 779.93 1165.7 781.73 1167.7 786.13 C1164.7 788.33 1152.7 788.33 1149.7 786.13 Z" stroke-width="1.5"/>
<path d="M1151.1 785.53 Q1158.7 786.53 1166.3 785.53" fill="none" stroke-width="0.9"/>
</g>
<line x1="866.8" y1="772.7" x2="1251.8" y2="772.7" stroke="#606060" stroke-width="1.7"/>
<rect x="1002.2" y="781.3" width="19.2" height="5.3" rx="2.2" fill="#fff" stroke="#6a6a6a" stroke-width="1.4"/>
<path d="M1006.4 773 L1006.4 783.6 M1017.2 773 L1017.2 783.6" fill="none" stroke="#555" stroke-width="1.4"/>
<line x1="1004.4" y1="784.6" x2="1019.2" y2="784.6" stroke="#8a8a8a" stroke-width="1.2"/>
<g fill="#fff" stroke="#474747" stroke-width="1.9" stroke-linejoin="round">
<path d="M1006.4 773.5 L1006.4 751 L1011.8 748 L1017.2 751 L1017.2 773.5 Z" />
<path d="M1006.4 772.5 L1005.2 774.9 Q1011.8 777.9 1018.4 774.9 L1017.2 772.5 Z" stroke-width="1.4"/>
</g>
<g fill="none" stroke="#4a4a4a" stroke-linecap="round">
<line x1="1011.8" y1="751.5" x2="1011.8" y2="773" stroke-width="1.8"/>
<line x1="1007.2" y1="753.5" x2="1010.2" y2="753.5" stroke-width="1.5" stroke-dasharray="1.3 0.9"/>
<line x1="1013.4" y1="753.5" x2="1016.4" y2="753.5" stroke-width="1.5" stroke-dasharray="1.3 0.9"/>
<line x1="1007.2" y1="756.9" x2="1010.2" y2="756.9" stroke-width="1.5" stroke-dasharray="1.3 0.9"/>
<line x1="1013.4" y1="756.9" x2="1016.4" y2="756.9" stroke-width="1.5" stroke-dasharray="1.3 0.9"/>
<line x1="1007.2" y1="760.3" x2="1010.2" y2="760.3" stroke-width="1.5" stroke-dasharray="1.3 0.9"/>
<line x1="1013.4" y1="760.3" x2="1016.4" y2="760.3" stroke-width="1.5" stroke-dasharray="1.3 0.9"/>
<line x1="1007.2" y1="763.7" x2="1010.2" y2="763.7" stroke-width="1.5" stroke-dasharray="1.3 0.9"/>
<line x1="1013.4" y1="763.7" x2="1016.4" y2="763.7" stroke-width="1.5" stroke-dasharray="1.3 0.9"/>
<line x1="1007.2" y1="767.1" x2="1010.2" y2="767.1" stroke-width="1.5" stroke-dasharray="1.3 0.9"/>
<line x1="1013.4" y1="767.1" x2="1016.4" y2="767.1" stroke-width="1.5" stroke-dasharray="1.3 0.9"/>
<path d="M1006.4 767 l-2 1.6 l2 1" stroke-width="1.3"/>
<path d="M1017.2 767 l2 1.6 l-2 1" stroke-width="1.3"/>
<line x1="1006.4" y1="772.7" x2="1017.2" y2="772.7" stroke-width="1.5"/>
</g>
<rect x="1105" y="781.3" width="19.2" height="5.3" rx="2.2" fill="#fff" stroke="#6a6a6a" stroke-width="1.4"/>
<path d="M1109.2 773 L1109.2 783.6 M1120 773 L1120 783.6" fill="none" stroke="#555" stroke-width="1.4"/>
<line x1="1107.2" y1="784.6" x2="1122" y2="784.6" stroke="#8a8a8a" stroke-width="1.2"/>
<g fill="#fff" stroke="#474747" stroke-width="1.9" stroke-linejoin="round">
<path d="M1109.2 773.5 L1109.2 751 L1114.6 748 L1120 751 L1120 773.5 Z" />
<path d="M1109.2 772.5 L1108 774.9 Q1114.6 777.9 1121.2 774.9 L1120 772.5 Z" stroke-width="1.4"/>
</g>
<g fill="none" stroke="#4a4a4a" stroke-linecap="round">
<line x1="1114.6" y1="751.5" x2="1114.6" y2="773" stroke-width="1.8"/>
<line x1="1110" y1="753.5" x2="1113" y2="753.5" stroke-width="1.5" stroke-dasharray="1.3 0.9"/>
<line x1="1116.2" y1="753.5" x2="1119.2" y2="753.5" stroke-width="1.5" stroke-dasharray="1.3 0.9"/>
<line x1="1110" y1="756.9" x2="1113" y2="756.9" stroke-width="1.5" stroke-dasharray="1.3 0.9"/>
<line x1="1116.2" y1="756.9" x2="1119.2" y2="756.9" stroke-width="1.5" stroke-dasharray="1.3 0.9"/>
<line x1="1110" y1="760.3" x2="1113" y2="760.3" stroke-width="1.5" stroke-dasharray="1.3 0.9"/>
<line x1="1116.2" y1="760.3" x2="1119.2" y2="760.3" stroke-width="1.5" stroke-dasharray="1.3 0.9"/>
<line x1="1110" y1="763.7" x2="1113" y2="763.7" stroke-width="1.5" stroke-dasharray="1.3 0.9"/>
<line x1="1116.2" y1="763.7" x2="1119.2" y2="763.7" stroke-width="1.5" stroke-dasharray="1.3 0.9"/>
<line x1="1110" y1="767.1" x2="1113" y2="767.1" stroke-width="1.5" stroke-dasharray="1.3 0.9"/>
<line x1="1116.2" y1="767.1" x2="1119.2" y2="767.1" stroke-width="1.5" stroke-dasharray="1.3 0.9"/>
<path d="M1109.2 767 l-2 1.6 l2 1" stroke-width="1.3"/>
<path d="M1120 767 l2 1.6 l-2 1" stroke-width="1.3"/>
<line x1="1109.2" y1="772.7" x2="1120" y2="772.7" stroke-width="1.5"/>
</g>
<rect x="958.6" y="796.3" width="8.3" height="29.3" rx="0.4" fill="#555" stroke="#444" stroke-width="0.6"/>
<path d="M958.6 797.9H967.3M958.6 800.05H967.3M958.6 802.2H967.3M958.6 804.35H967.3M958.6 806.5H967.3M958.6 808.65H967.3M958.6 810.8H967.3M958.6 812.95H967.3M958.6 815.1H967.3M958.6 817.25H967.3M958.6 819.4H967.3M958.6 821.55H967.3M958.6 823.7H967.3" fill="none" stroke="#2e2e2e" stroke-width="0.8"/>
<rect x="1154.6" y="796.3" width="9" height="32" rx="0.4" fill="#555" stroke="#444" stroke-width="0.6"/>
<path d="M1154.6 797.9H1164M1154.6 800.05H1164M1154.6 802.2H1164M1154.6 804.35H1164M1154.6 806.5H1164M1154.6 808.65H1164M1154.6 810.8H1164M1154.6 812.95H1164M1154.6 815.1H1164M1154.6 817.25H1164M1154.6 819.4H1164M1154.6 821.55H1164M1154.6 823.7H1164M1154.6 825.85H1164" fill="none" stroke="#2e2e2e" stroke-width="0.8"/>
<g fill="#fff" stroke="#505050" stroke-width="1.7" stroke-linejoin="round" stroke-linecap="round">
<path d="M934.2 873 L953.4 862 L980 877 L980 886 L960 897.9 L960 888.2 Z" />
<path d="M960 888.2 L980 877 M960 888.2 L960 897.9" fill="none"/>
<path d="M934.2 873 l6.6 3.7 l0 9.6 l-6.6 -3.6 Z" />
<path d="M935.8 876 l3.4 1.9 l0 5.6 l-3.4 -1.9 Z" stroke-width="1.1"/>
<path d="M940.8 876.7 l3.2 -1.9" fill="none" stroke-width="1.2"/>
<path d="M944.1 879 l6.6 3.7 l0 9.6 l-6.6 -3.6 Z" />
<path d="M945.7 882 l3.4 1.9 l0 5.6 l-3.4 -1.9 Z" stroke-width="1.1"/>
<path d="M950.7 882.7 l3.2 -1.9" fill="none" stroke-width="1.2"/>
<path d="M953.8 884.6 l6.6 3.7 l0 9.6 l-6.6 -3.6 Z" />
<path d="M955.4 887.6 l3.4 1.9 l0 5.6 l-3.4 -1.9 Z" stroke-width="1.1"/>
<path d="M960.4 888.3 l3.2 -1.9" fill="none" stroke-width="1.2"/>
<path d="M947.3 859 L947.3 867.6 A4.3 2.6 0 0 0 955.9 867.6 L955.9 859 Z" />
<ellipse cx="951.6" cy="859" rx="4.3" ry="2.6" />
<ellipse cx="951.6" cy="859.1" rx="2.2" ry="1" stroke-width="1"/>
<path d="M956.1 864.3 L956.1 872.9 A4.3 2.6 0 0 0 964.7 872.9 L964.7 864.3 Z" />
<ellipse cx="960.4" cy="864.3" rx="4.3" ry="2.6" />
<ellipse cx="960.4" cy="864.4" rx="2.2" ry="1" stroke-width="1"/>
<path d="M965.9 869.9 L965.9 878.5 A4.3 2.6 0 0 0 974.5 878.5 L974.5 869.9 Z" />
<ellipse cx="970.2" cy="869.9" rx="4.3" ry="2.6" />
<ellipse cx="970.2" cy="870" rx="2.2" ry="1" stroke-width="1"/>
<path d="M939.3 864.1 L939.3 872.7 A4.3 2.6 0 0 0 947.9 872.7 L947.9 864.1 Z" />
<ellipse cx="943.6" cy="864.1" rx="4.3" ry="2.6" />
<ellipse cx="943.6" cy="864.2" rx="2.2" ry="1" stroke-width="1"/>
<path d="M948.8 869.2 L948.8 877.8 A4.3 2.6 0 0 0 957.4 877.8 L957.4 869.2 Z" />
<ellipse cx="953.1" cy="869.2" rx="4.3" ry="2.6" />
<ellipse cx="953.1" cy="869.3" rx="2.2" ry="1" stroke-width="1"/>
<path d="M958.4 874.3 L958.4 882.9 A4.3 2.6 0 0 0 967 882.9 L967 874.3 Z" />
<ellipse cx="962.7" cy="874.3" rx="4.3" ry="2.6" />
<ellipse cx="962.7" cy="874.4" rx="2.2" ry="1" stroke-width="1"/>
</g>
<line x1="962.6" y1="825.6" x2="962.6" y2="997" stroke="#777" stroke-width="1.8" opacity="0.85"/>
<line x1="1158.8" y1="828.3" x2="1158.8" y2="1002" stroke="#777" stroke-width="1.8" opacity="0.85"/>
<path d="M951.2 995.6 L973.6 995.6 L973.6 1011.2 C973 1015.6 968.4 1020 962.4 1020 C956.4 1020 951.8 1015.6 951.2 1011.2 Z" fill="#fff" stroke="#5a5a5a" stroke-width="1.3"/>
<rect x="951.2" y="995.6" width="22.4" height="16.4" rx="0.5" fill="#585858" stroke="#4a4a4a" stroke-width="1"/>
<path d="M954.3 997.2V1000.8M954.3 1006V1011.2M958.4 997.2V1000.8M958.4 1006V1011.2M962.5 997.2V1000.8M962.5 1006V1011.2M966.6 997.2V1000.8M966.6 1006V1011.2M970.7 997.2V1000.8M970.7 1006V1011.2" fill="none" stroke="#e6e6e6" stroke-width="1.2"/>
<line x1="951.2" y1="1003" x2="973.6" y2="1003" stroke="#d8d8d8" stroke-width="1.3"/>
<path d="M953.2 1012 Q962.4 1017.2 971.6 1012" fill="none" stroke="#5a5a5a" stroke-width="1.1"/>
<path d="M1147.5 1001 L1169.9 1001 L1169.9 1016.6 C1169.3 1021 1164.7 1025.4 1158.7 1025.4 C1152.7 1025.4 1148.1 1021 1147.5 1016.6 Z" fill="#fff" stroke="#5a5a5a" stroke-width="1.3"/>
<rect x="1147.5" y="1001" width="22.4" height="16.4" rx="0.5" fill="#585858" stroke="#4a4a4a" stroke-width="1"/>
<path d="M1150.6 1002.6V1006.2M1150.6 1011.4V1016.6M1154.7 1002.6V1006.2M1154.7 1011.4V1016.6M1158.8 1002.6V1006.2M1158.8 1011.4V1016.6M1162.9 1002.6V1006.2M1162.9 1011.4V1016.6M1167 1002.6V1006.2M1167 1011.4V1016.6" fill="none" stroke="#e6e6e6" stroke-width="1.2"/>
<line x1="1147.5" y1="1008.4" x2="1169.9" y2="1008.4" stroke="#d8d8d8" stroke-width="1.3"/>
<path d="M1149.5 1017.4 Q1158.7 1022.6 1167.9 1017.4" fill="none" stroke="#5a5a5a" stroke-width="1.1"/>
<g fill="#fff" stroke="#6a6a6a" stroke-width="1.6" stroke-linejoin="round" stroke-linecap="round">
<path d="M926.2 1034.2 C926 1037 926 1039 926.6 1040.4 C929 1043.4 938 1044.4 941.6 1044.4 L978 1044.4 C984 1044.2 1000 1043.6 1003.8 1039.6 C1004.6 1038 1004.4 1035.6 1004 1033.6 C1001 1030.4 992 1027.6 982 1026.2 L981.6 1021.8 L967.4 1029.6 L981 1037.2 L981.2 1033 C986 1033 992 1034 996 1035.4 C990 1037 984 1037.2 978 1037.2 L937 1037 C934 1036 930 1035.2 926.2 1034.2 Z" />
<path d="M926.2 1034.2 C930 1031 938 1028.4 944.6 1026.6 L945.2 1032.8 C942 1034 939 1035 937 1037" fill="#fff"/>
<path d="M1004 1033.6 C1001 1035.6 998 1036.6 996 1035.4" fill="none"/>
</g>
<!-- step 4 -->
<g fill="none" stroke="#6c6c6c" stroke-width="1.65">
<rect x="1460.99" y="830.48" width="149.02" height="148.62" rx="5.15" stroke="#e38888" stroke-width="1.9"/>
<rect x="1470.1" y="839.64" width="130.8" height="130.17" rx="4.58" stroke="#e38888" stroke-width="1.9"/>
<rect x="1475.14" y="771.66" width="120.78" height="120.67" rx="5.15" />
<rect x="1484.64" y="781.45" width="101.71" height="101.08" rx="2.86" />
<rect x="1488.37" y="785.01" width="94.27" height="93.81" rx="3.44" />
<rect x="1489.51" y="786.21" width="91.98" height="91.35" rx="2.58" />
<rect x="1475.14" y="917.36" width="120.78" height="120.67" rx="5.15" />
<rect x="1484.64" y="927.15" width="101.71" height="101.08" rx="2.86" />
<rect x="1488.37" y="930.7" width="94.27" height="93.81" rx="3.44" />
<rect x="1489.51" y="931.9" width="91.98" height="91.35" rx="2.58" />
<rect x="1345.31" y="825.72" width="158.41" height="157.84" rx="5.15" />
<rect x="1355.1" y="835.69" width="138.82" height="138.59" rx="3.44" />
<rect x="1360.31" y="840.61" width="128.06" height="128.69" rx="3.72" />
<rect x="1361.8" y="842.16" width="125.08" height="125.71" rx="2.58" />
<rect x="1567.28" y="825.72" width="158.41" height="157.84" rx="5.15" />
<rect x="1577.08" y="835.69" width="138.82" height="138.59" rx="3.44" />
<rect x="1582.29" y="840.61" width="128.06" height="128.69" rx="3.72" />
<rect x="1583.78" y="842.16" width="125.08" height="125.71" rx="2.58" />
<line x1="1528.91" y1="892.33" x2="1541.74" y2="892.33" stroke="#fff" stroke-width="2.85"/>
<line x1="1528.91" y1="917.36" x2="1541.74" y2="917.36" stroke="#fff" stroke-width="2.85"/>
<line x1="1503.72" y1="900.43" x2="1503.72" y2="909.02" stroke="#fff" stroke-width="2.85"/>
<line x1="1567.28" y1="900.43" x2="1567.28" y2="909.02" stroke="#fff" stroke-width="2.85"/>
<circle cx="1535.33" cy="883.91" r="8.82" fill="#fff" stroke-width="1.65"/>
<circle cx="1535.33" cy="883.91" r="2.63" stroke-width="1.65"/>
<circle cx="1535.33" cy="925.78" r="8.82" fill="#fff" stroke-width="1.65"/>
<circle cx="1535.33" cy="925.78" r="2.63" stroke-width="1.65"/>
<circle cx="1495.47" cy="904.76" r="8.82" fill="#fff" stroke-width="1.65"/>
<circle cx="1495.47" cy="904.76" r="2.63" stroke-width="1.65"/>
<circle cx="1575.3" cy="904.76" r="8.82" fill="#fff" stroke-width="1.65"/>
<circle cx="1575.3" cy="904.76" r="2.63" stroke-width="1.65"/>
</g>
</svg>
</body>
</html>
